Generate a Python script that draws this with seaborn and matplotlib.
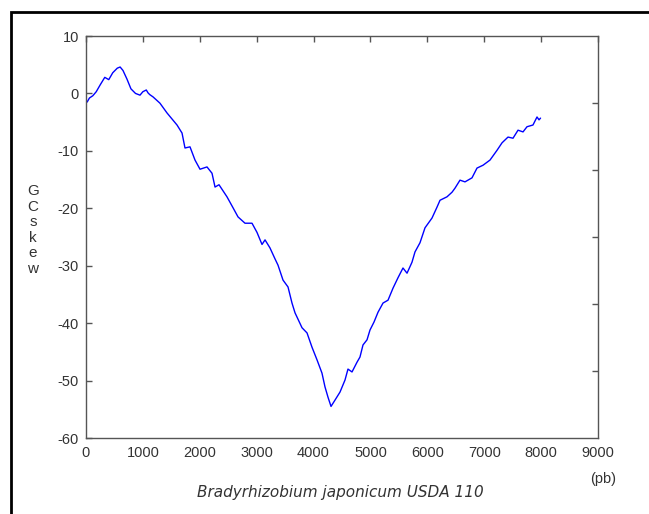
import matplotlib
matplotlib.use("Agg")
import matplotlib.pyplot as plt
import seaborn as sns
import pandas as pd
from matplotlib.patches import Rectangle

position = [0, 20, 60, 120, 180, 250, 330, 400, 470, 550, 600, 650, 720, 790, 870, 949, 1000, 1060, 1090, 1120,
            1178, 1300, 1424, 1600, 1688, 1740, 1828, 1916, 2004, 2127, 2215, 2268, 2338, 2478, 2584, 2672, 2795, 2918,
            3006, 3094, 3147, 3234, 3322, 3375, 3463, 3551, 3621, 3674, 3797, 3885, 3973, 4061, 4148, 4201, 4254, 4307,
            4377, 4465, 4553, 4605, 4676, 4764, 4816, 4869, 4940, 4992, 5063, 5133, 5221, 5309, 5397, 5484, 5572, 5643,
            5730, 5783, 5871, 5959, 6082, 6170, 6223, 6346, 6434, 6486, 6574, 6662, 6785, 6873, 6979, 7102, 7225, 7313,
            7418, 7506, 7594, 7682, 7752, 7857, 7928, 7963, 7990]
gc_skew = [-1.3, -1.5, -0.8, -0.4, 0.3, 1.5, 2.8, 2.4, 3.6, 4.4, 4.6, 4.0, 2.5, 0.8, 0.0, -0.3, 0.3, 0.6, 0.1, -0.2,
           -0.6, -1.7, -3.4, -5.5, -6.9, -9.5, -9.3, -11.6, -13.2, -12.8, -13.9, -16.3, -15.9, -18.0, -19.9, -21.5,
           -22.6, -22.6, -24.2, -26.3, -25.5, -26.9, -28.8, -29.9, -32.5, -33.7, -36.5, -38.2, -40.8, -41.7, -44.2,
           -46.4, -48.7, -51.1, -52.9, -54.5, -53.4, -52.0, -49.9, -48.0, -48.5, -46.8, -45.9, -43.8, -42.9, -41.2,
           -39.8, -38.1, -36.5, -36.0, -33.9, -32.1, -30.4, -31.3, -29.4, -27.6, -26.0, -23.4, -21.7, -19.8, -18.6,
           -18.0, -17.2, -16.5, -15.1, -15.4, -14.7, -13.0, -12.5, -11.6, -9.9, -8.6, -7.6, -7.8, -6.4, -6.7, -5.8,
           -5.5, -4.1, -4.6, -4.3]
x_ticks = [0, 1000, 2000, 3000, 4000, 5000, 6000, 7000, 8000, 9000]
y_ticks = [10, 0, -10, -20, -30, -40, -50, -60]

sns.set_style("white")
plt.rcParams['font.family'] = ['Liberation Sans', 'DejaVu Sans']
plt.rcParams['axes.unicode_minus'] = False

df = pd.DataFrame({"pos": position, "skew": gc_skew})

fig = plt.figure(figsize=(6.49, 5.14), dpi=100)
fig.patches.append(Rectangle((11 / 649, -0.1), 1.2, (514 - 12) / 514 + 0.1, transform=fig.transFigure,
                             fill=False, edgecolor="black", linewidth=2, zorder=0))
ax = fig.add_axes([86 / 649, (514 - 438) / 514, (598 - 86) / 649, (438 - 36) / 514])

sns.lineplot(data=df, x="pos", y="skew", ax=ax, color="#0000ff", linewidth=1.0, sort=False, estimator=None)

ax.set_xlim(0, 9000)
ax.set_ylim(-60, 10)
ax.set_xticks(x_ticks)
ax.set_yticks(y_ticks)
ax.set_xlabel("")
ax.set_ylabel("")
for s in ax.spines.values():
    s.set_visible(True)
    s.set_color("#555555")
    s.set_linewidth(1.0)
ax.tick_params(direction="in", length=4, width=1, color="#555555", labelcolor="#333333", labelsize=10.5,
               top=True, right=False)
ax.tick_params(axis="y", pad=5)
ax.tick_params(axis="x", pad=6)

ax2 = ax.twinx()
ax2.set_ylim(0, 6)
ax2.set_yticks([1, 2, 3, 4, 5])
ax2.set_yticklabels([])
ax2.tick_params(direction="in", length=4, width=1, color="#555555")
for s in ax2.spines.values():
    s.set_visible(False)

fig.text(33 / 649, 1 - 230 / 514, "G\nC\ns\nk\ne\nw", ha="center", va="center", fontsize=11,
         color="#333333", linespacing=1.15)
fig.text(616 / 649, 1 - 479 / 514, "(pb)", ha="right", va="center", fontsize=10.5, color="#333333")
fig.text(340 / 649, 1 - 493 / 514, "Bradyrhizobium japonicum USDA 110", ha="center", va="center",
         fontsize=11, style="italic", color="#333333", family=["DejaVu Sans"])

fig.savefig("out.png", dpi=100)
